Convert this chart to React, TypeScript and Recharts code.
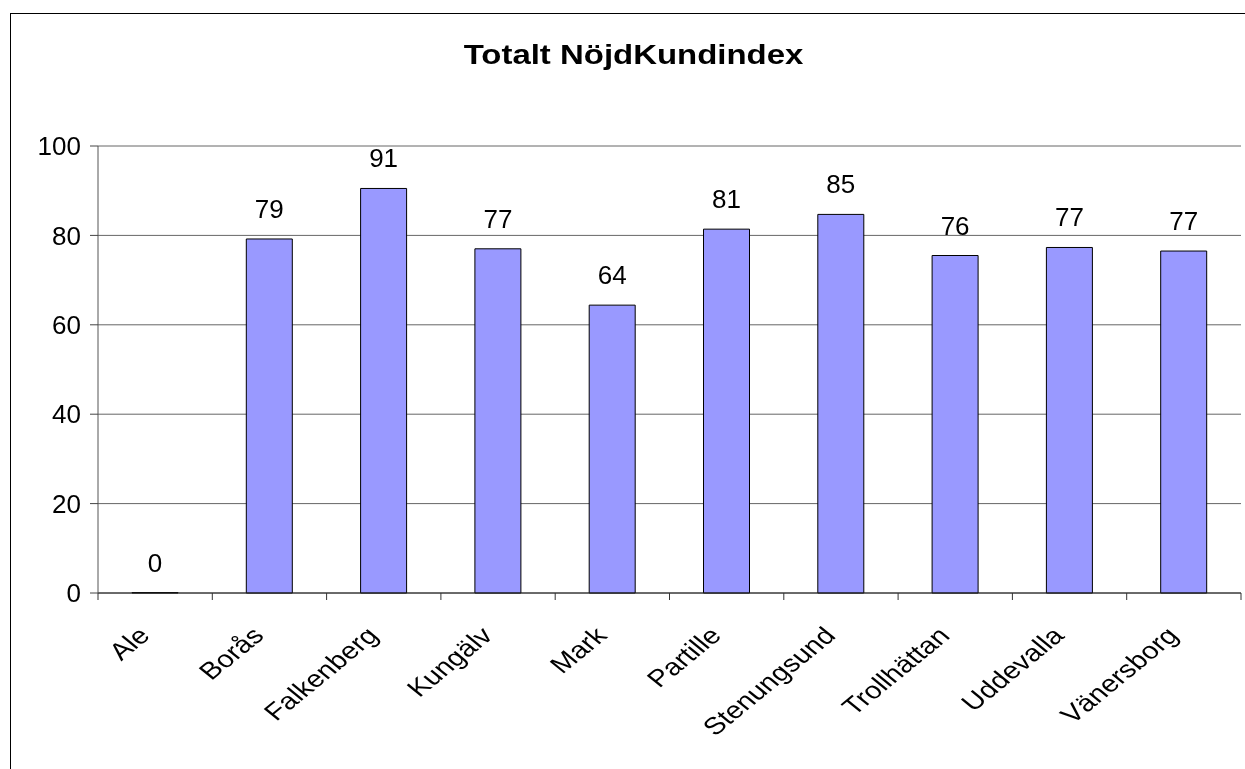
import { Bar, BarChart, CartesianGrid, LabelList, XAxis, YAxis } from "recharts";

const categories = [
  "Ale",
  "Borås",
  "Falkenberg",
  "Kungälv",
  "Mark",
  "Partille",
  "Stenungsund",
  "Trollhättan",
  "Uddevalla",
  "Vänersborg",
];
const nki = [0, 79.2, 90.5, 77.0, 64.4, 81.4, 84.7, 75.5, 77.3, 76.5];
const yTicks = [0, 20, 40, 60, 80, 100];

const FONT = '"Liberation Sans", Arial, sans-serif';
const CHART_W = 1234;
const CHART_H = 755;
const MARGIN = { top: 132, right: 4, bottom: 0, left: 0 };
const Y_W = 87;
const BAND = (CHART_W - MARGIN.left - MARGIN.right - Y_W) / categories.length;
// the source picture is stretched sideways, text included
const STRETCH = 1.22;

const data = categories.map((name, i) => ({ name, value: nki[i] }));

// category ticks sit between bars (excel style), label rotated under the bar
function CategoryTick(props: any) {
  const { x, y, payload, index } = props;
  const left = x - BAND / 2;
  const last = index === categories.length - 1;
  const tx = x - 4;
  const ty = y + 44;
  return (
    <g>
      <line x1={left} y1={y} x2={left} y2={y + 7} stroke="#333" />
      {last && <line x1={x + BAND / 2} y1={y} x2={x + BAND / 2} y2={y + 7} stroke="#333" />}
      <text
        x={0}
        y={0}
        textAnchor="end"
        transform={`translate(${tx}, ${ty}) scale(${STRETCH}, 1) rotate(-45)`}
        fill="#000"
        fontSize={24}
        fontFamily={FONT}
      >
        {payload.value}
      </text>
    </g>
  );
}

export default function App() {
  return (
    <div
      style={{
        position: "fixed",
        left: 10,
        top: 13,
        width: CHART_W,
        height: CHART_H,
        borderLeft: "1px solid #000",
        borderTop: "1px solid #000",
        background: "#fff",
        fontFamily: FONT,
      }}
    >
      <div
        style={{
          position: "absolute",
          left: 0,
          top: 24,
          width: 1245,
          textAlign: "center",
          fontSize: 27,
          fontWeight: "bold",
          lineHeight: "34px",
          color: "#000",
          transform: `scaleX(${STRETCH})`,
          transformOrigin: "center",
        }}
      >
        Totalt NöjdKundindex
      </div>
      <div style={{ position: "absolute", left: 0, top: 0 }}>
        <BarChart width={CHART_W} height={CHART_H} data={data} margin={MARGIN}>
          <CartesianGrid vertical={false} stroke="#666" yAxisId="l" />
          <XAxis
            dataKey="name"
            height={176}
            interval={0}
            tickLine={false}
            tickSize={0}
            tickMargin={0}
            axisLine={{ stroke: "#222" }}
            tick={<CategoryTick />}
          />
          <YAxis
            yAxisId="l"
            width={Y_W}
            domain={[0, 100]}
            ticks={yTicks}
            tickSize={8}
            tickMargin={9}
            tickLine={{ stroke: "#444" }}
            axisLine={{ stroke: "#555" }}
            tick={{ fill: "#000", fontSize: 26, fontFamily: FONT }}
          />
          <YAxis
            yAxisId="r"
            orientation="right"
            width={0}
            domain={[0, 100]}
            tick={false}
            tickLine={false}
            axisLine={{ stroke: "#888" }}
          />
          <Bar
            yAxisId="l"
            dataKey="value"
            fill="#9999FF"
            stroke="#000"
            strokeWidth={1}
            barSize={46}
            minPointSize={(v: number) => (v === 0 ? 0.5 : 0)}
            isAnimationActive={false}
          >
            <LabelList
              dataKey="value"
              position="top"
              offset={21}
              fill="#000"
              fontSize={26}
              fontFamily={FONT}
              formatter={(v: any) => String(Math.round(Number(v)))}
            />
          </Bar>
        </BarChart>
      </div>
    </div>
  );
}
